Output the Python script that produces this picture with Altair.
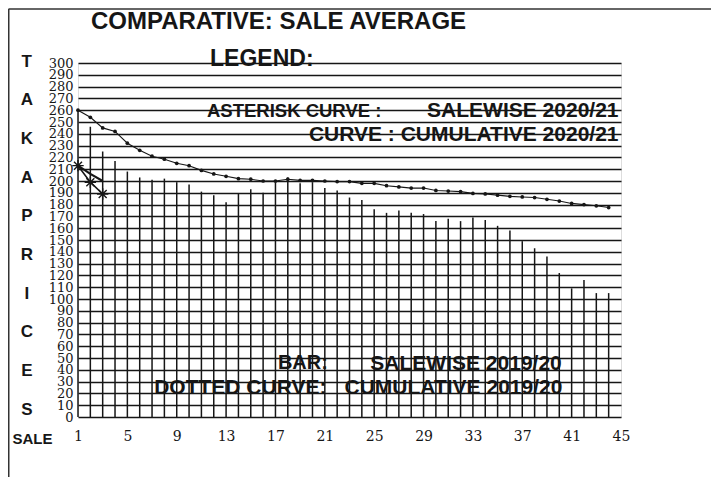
import altair as alt
import pandas as pd

# ---------------- data ----------------
sales_1920 = list(range(1, 45))
salewise_1920 = [260, 246, 225, 217, 208, 203, 201, 202, 199, 197, 191, 188, 182, 189,
                 193, 190, 199, 203, 198, 199, 194, 192, 186, 184, 176, 173, 175, 173,
                 172, 166, 168, 166, 169, 167, 162, 158, 149, 143, 136, 122, 109, 116,
                 105, 105]
cumulative_1920 = [260, 254, 245, 242, 232, 226, 221, 218.5, 215, 213, 209, 206, 204, 202,
                   201.5, 200, 200, 201.5, 200.5, 200.5, 200, 199.5, 199.5, 198, 198, 196,
                   195, 194, 194, 192, 191.5, 191, 189.5, 189, 188, 187, 186.5, 186, 184.5,
                   183, 181, 180, 179, 177.5]
sales_2021 = [1, 2, 3]
salewise_2021 = [213, 199, 189]
cumulative_2021 = [213, 206, 200]

y_ticks = list(range(0, 301, 10))
x_ticks = list(range(1, 46, 4))
y_title_letters = ["T", "A", "K", "A", "P", "R", "I", "C", "E", "S"]

title_text = "COMPARATIVE: SALE AVERAGE"
legend_head = "LEGEND:"
legend_texts = {
    "ast_a": "ASTERISK CURVE :",
    "ast_b": "SALEWISE 2020/21",
    "cum21": "CURVE : CUMULATIVE 2020/21",
    "bar_a": "BAR:",
    "bar_b": "SALEWISE 2019/20",
    "dot_a": "DOTTED CURVE:",
    "dot_b": "CUMULATIVE 2019/20",
}

# ---------------- styling ----------------
SANS = "Liberation Sans"
SERIF = "DejaVu Serif"
INK = "#161616"
W, H = 543, 354

xs = alt.Scale(domain=[1, 45], nice=False, zero=False)
ys = alt.Scale(domain=[0, 300], nice=False)

df19 = pd.DataFrame({"sale": sales_1920, "salewise": salewise_1920,
                     "cumulative": cumulative_1920})
df21 = pd.DataFrame({"sale": sales_2021, "salewise": salewise_2021,
                     "cumulative": cumulative_2021})
one = pd.DataFrame({"k": [0]})

x_axis = alt.Axis(values=x_ticks, labelFont=SERIF, labelFontSize=14, labelColor=INK,
                  labelPadding=12, labelFlush=False, ticks=False, domain=False, grid=False,
                  title="SALE", titleFont=SANS, titleFontSize=15, titleFontWeight="bold",
                  titleColor=INK, titleX=-46, titleY=21, titleAlign="center",
                  titleBaseline="middle", titleAngle=0)
y_axis = alt.Axis(values=y_ticks, labelFont=SERIF, labelFontSize=13, labelColor=INK,
                  labelPadding=5, labelOverlap=False, labelFlush=False, ticks=False,
                  domain=False, grid=True, gridColor=INK, gridWidth=1.4, gridOpacity=1,
                  title=y_title_letters, titleFont=SANS, titleFontSize=17,
                  titleFontWeight="bold", titleColor=INK, titleAngle=0,
                  titleX=-51.7, titleY=-2, titleAlign="center", titleBaseline="middle",
                  titleLineHeight=38.7)


def X(field):
    return alt.X(field, type="quantitative", scale=xs, axis=x_axis)


def Y(field):
    return alt.Y(field, type="quantitative", scale=ys, axis=y_axis)


bars = alt.Chart(df19).mark_rule(color=INK, strokeWidth=1.5).encode(
    x=X("sale"), y=Y("salewise"), y2=alt.datum(0),
)

dotted = alt.Chart(df19).mark_line(
    color=INK, strokeWidth=1.1,
    point=alt.OverlayMarkDef(filled=True, color=INK, size=14),
).encode(x=X("sale"), y=Y("cumulative"))

ASTERISK = "M-1,0L1,0M0,-1L0,1M-0.7,-0.7L0.7,0.7M-0.7,0.7L0.7,-0.7"
ast_line = alt.Chart(df21).mark_line(color=INK, strokeWidth=1.6).encode(
    x=X("sale"), y=Y("salewise"))
ast_pts = alt.Chart(df21).mark_point(shape=ASTERISK, filled=False, color=INK,
                                     strokeWidth=1.4, size=130, opacity=1).encode(
    x=X("sale"), y=Y("salewise"))
cum21 = alt.Chart(df21).mark_line(color=INK, strokeWidth=2.2).encode(
    x=X("sale"), y=Y("cumulative"))


def note(txt, x, y, align, size=21):
    return alt.Chart(one).mark_text(
        text=txt, align=align, baseline="middle", font=SANS, fontSize=size,
        fontWeight="bold", color=INK,
    ).encode(x=alt.XDatum(x, scale=xs, axis=x_axis),
             y=alt.YDatum(y, scale=ys, axis=y_axis))


notes = [
    note(legend_head, 11.7, 303, "left", 23),
    note(legend_texts["ast_a"], 11.45, 259, "left", 18.5),
    note(legend_texts["ast_b"], 44.8, 259, "right"),
    note(legend_texts["cum21"], 44.8, 239, "right"),
    note(legend_texts["bar_a"], 17.2, 46, "left", 20),
    note(legend_texts["bar_b"], 40.2, 45, "right"),
    note(legend_texts["dot_a"], 7.17, 25, "left"),
    note(legend_texts["dot_b"], 40.25, 25, "right"),
]

title = alt.Chart(one).mark_text(
    text=title_text, align="center", baseline="middle", font=SANS, fontSize=24,
    fontWeight="bold", color=INK,
).encode(x=alt.value(200.5), y=alt.value(-41))

frame_top = alt.Chart(one).mark_rule(color="#333", strokeWidth=1.3).encode(
    x=alt.value(-69.5), x2=alt.value(633), y=alt.value(-54))
frame_left = alt.Chart(one).mark_rule(color="#333", strokeWidth=2).encode(
    x=alt.value(-69.5), y=alt.value(-54), y2=alt.value(414))

chart = alt.layer(
    bars, dotted, cum21, ast_line, ast_pts, *notes, title, frame_top, frame_left
).properties(
    width=W, height=H,
    autosize=alt.AutoSizeParams(type="none"),
    padding={"left": 70, "top": 55, "right": 90, "bottom": 60},
).configure_view(strokeWidth=0, stroke="transparent").configure(background="white")

chart.save("out.html", embed_options={"renderer": "svg", "actions": False})
